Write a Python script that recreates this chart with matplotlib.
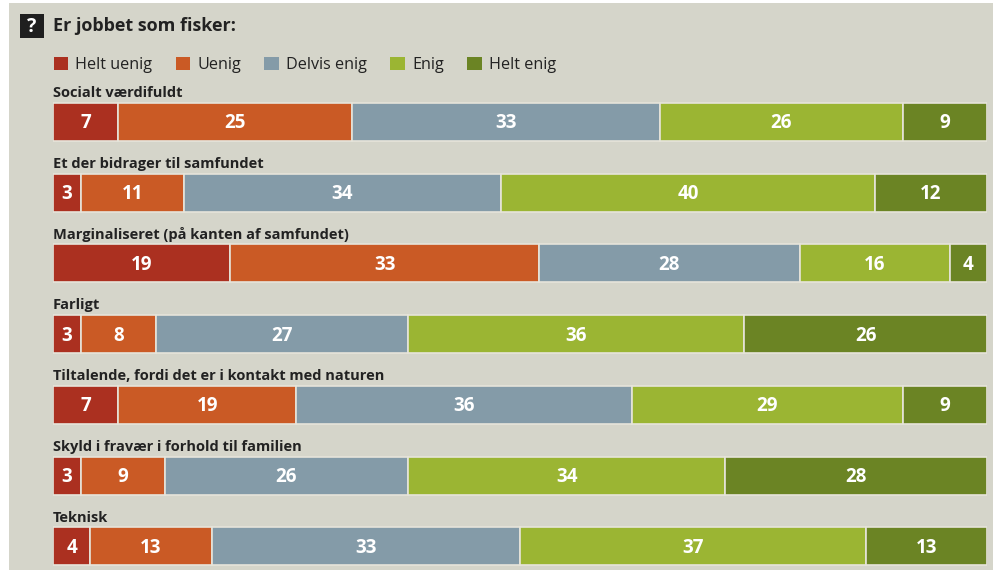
import matplotlib.pyplot as plt
from matplotlib.patches import Patch, Rectangle
import numpy as np

# Survey: "Er jobbet som fisker:" - share of answers (%)
questions = [
    "Socialt værdifuldt",
    "Et der bidrager til samfundet",
    "Marginaliseret (på kanten af samfundet)",
    "Farligt",
    "Tiltalende, fordi det er i kontakt med naturen",
    "Skyld i fravær i forhold til familien",
    "Teknisk",
]
answers = ["Helt uenig", "Uenig", "Delvis enig", "Enig", "Helt enig"]
colors = ["#ab3020", "#ca5a25", "#849ba8", "#9bb533", "#6b8424"]

helt_uenig = [7, 3, 19, 3, 7, 3, 4]
uenig = [25, 11, 33, 8, 19, 9, 13]
delvis_enig = [33, 34, 28, 27, 36, 26, 33]
enig = [26, 40, 16, 36, 29, 34, 37]
helt_enig = [9, 12, 4, 26, 9, 28, 13]

series = [helt_uenig, uenig, delvis_enig, enig, helt_enig]

plt.rcParams['font.family'] = ['Open Sans', 'DejaVu Sans']
bg = "#d5d5ca"

W, H = 993, 570
fig = plt.figure(figsize=(W / 100, H / 100), dpi=100)
fig.patch.set_facecolor("white")
# grey panel
fig.add_artist(Rectangle((9 / W, 0), 1 - 9 / W, 1 - 3 / H, transform=fig.transFigure,
                         facecolor=bg, edgecolor="none", zorder=0))

ax_top, ax_bot = 86.6, 570
ax = fig.add_axes([53 / W, 1 - ax_bot / H, (987 - 53) / W, (ax_bot - ax_top) / H])
ax.set_facecolor("none")

y = np.arange(len(questions))
row_px = 70.7
bar_h = 38 / row_px
left = np.zeros(len(questions))
for vals, col in zip(series, colors):
    vals = np.array(vals)
    ax.barh(y, vals, left=left, height=bar_h, color=col, edgecolor="#e6e4da", linewidth=1.2)
    for yi, l, v in zip(y, left, vals):
        ax.text(l + v / 2, yi + 0.02, str(v), ha="center", va="center", color="white",
                fontsize=13.5, fontweight="bold")
    left += vals

for yi, q in zip(y, questions):
    ax.text(0, yi - 0.405, q, ha="left", va="center", fontsize=10.5, fontweight="bold",
            color="#222222")

ax.set_xlim(0, 100)
ax.set_ylim((ax_bot - 122) / row_px, (ax_top - 122) / row_px)
ax.axis("off")

# title with question-mark box
fig.add_artist(Rectangle((20 / W, 1 - 38 / H), 24 / W, 24 / H, transform=fig.transFigure,
                         facecolor="#1f1f1f", edgecolor="none"))
fig.text(32 / W, 1 - 26.5 / H, "?", ha="center", va="center", color="white",
         fontsize=14, fontweight="bold")
fig.text(53 / W, 1 - 26 / H, "Er jobbet som fisker:", ha="left", va="center",
         fontsize=13, fontweight="bold", color="#222222")

handles = [Patch(facecolor=c, edgecolor="none") for c in colors]
fig.legend(handles, answers, loc="center left", bbox_to_anchor=(39 / W, 1 - 65 / H),
           ncol=5, frameon=False, fontsize=11.6, handlelength=0.9, handleheight=0.9,
           handletextpad=0.45, columnspacing=1.45, labelcolor="#222222")

fig.savefig("out.png", dpi=100, facecolor=fig.get_facecolor())
